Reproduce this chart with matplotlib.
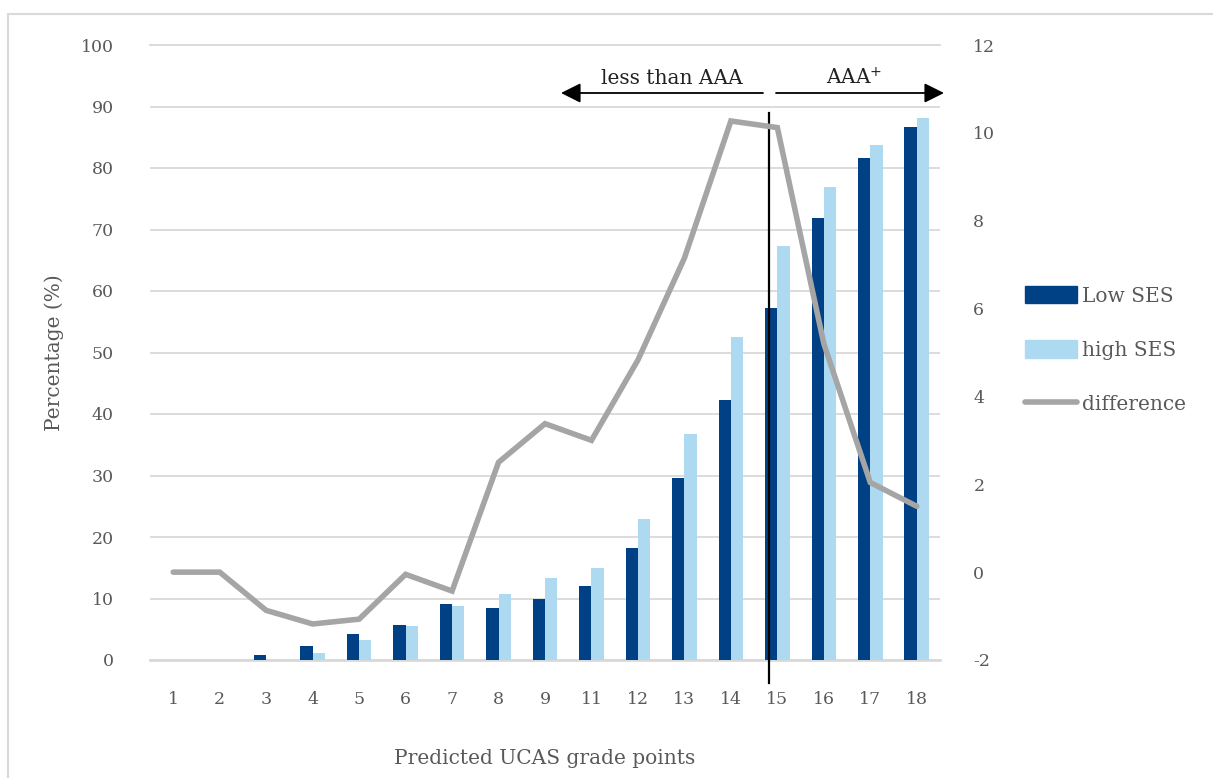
import matplotlib
matplotlib.use("Agg")
import matplotlib.pyplot as plt
import matplotlib.transforms as mtransforms
from matplotlib.patches import Rectangle, Patch, FancyArrowPatch
from matplotlib.lines import Line2D
import numpy as np

# Predicted UCAS grade points and outcome percentages by socio-economic status
grade_points = ["1", "2", "3", "4", "5", "6", "7", "8", "9",
                "11", "12", "13", "14", "15", "16", "17", "18"]
low_ses = [0.0, 0.0, 0.8, 2.3, 4.3, 5.7, 9.1, 8.4, 9.9,
           12.0, 18.2, 29.6, 42.3, 57.2, 71.8, 81.7, 86.6]
high_ses = [0.0, 0.0, 0.0, 1.1, 3.2, 5.6, 8.7, 10.8, 13.3,
            15.0, 23.0, 36.8, 52.6, 67.3, 76.9, 83.7, 88.1]
difference = [0.0, 0.0, -0.87, -1.18, -1.07, -0.05, -0.43, 2.5, 3.38,
              3.0, 4.83, 7.15, 10.27, 10.12, 5.2, 2.04, 1.5]

left_ticks = [0, 10, 20, 30, 40, 50, 60, 70, 80, 90, 100]
right_ticks = [-2, 0, 2, 4, 6, 8, 10, 12]

DARK = "#004185"
LIGHT = "#addaf0"
GREY_LINE = "#a5a5a5"
TEXT = "#595959"
GRID = "#d9d9d9"

plt.rcParams["font.family"] = "DejaVu Serif"
plt.rcParams["axes.unicode_minus"] = False

W, H = 1213, 778
fig = plt.figure(figsize=(W / 100, H / 100), dpi=100)

# chart-area border
fig.add_artist(Rectangle((8 / W, -0.1), 1.2, 1 - 14 / H + 0.1,
                         transform=fig.transFigure, fill=False,
                         edgecolor=GRID, linewidth=1.5))

ax = fig.add_axes([150 / W, 1 - 660 / H, 790 / W, 615 / H])
ax2 = ax.twinx()

x = np.arange(len(grade_points))
bw = 0.265
ax.bar(x - bw / 2, low_ses, width=bw, color=DARK, zorder=3, label="Low SES")
ax.bar(x + bw / 2, high_ses, width=bw, color=LIGHT, zorder=3, label="high SES")

ax2.plot(x, difference, color=GREY_LINE, linewidth=4, solid_capstyle="round",
         solid_joinstyle="miter", zorder=4)

ax.set_xlim(-0.5, len(grade_points) - 0.5)
ax.set_ylim(0, 100)
ax2.set_ylim(-2, 12)
ax.set_yticks(left_ticks)
ax2.set_yticks(right_ticks)
ax.set_xticks(x)
ax.set_xticklabels(grade_points)

ax.grid(axis="y", color=GRID, linewidth=1.3, zorder=0)
ax.set_axisbelow(True)
for a in (ax, ax2):
    for s in a.spines.values():
        s.set_visible(False)
ax.spines["bottom"].set_visible(True)
ax.spines["bottom"].set_color(GRID)
ax.spines["bottom"].set_linewidth(2)
ax.spines["top"].set_visible(True)
ax.spines["top"].set_color(GRID)
ax.spines["top"].set_linewidth(1.3)

ax.tick_params(axis="both", length=0, labelsize=12.5, colors=TEXT)
ax.tick_params(axis="x", pad=22)
ax.tick_params(axis="y", pad=26)
ax2.tick_params(axis="y", length=0, labelsize=12.5, colors=TEXT, pad=24)

ax.set_ylabel("Percentage (%)", fontsize=14.5, color=TEXT, labelpad=12)
ax.set_xlabel("Predicted UCAS grade points", fontsize=14.5, color=TEXT, labelpad=30)

# divider between "less than AAA" and "AAA+"
xl = 12.81
blend = mtransforms.blended_transform_factory(ax.transData, fig.transFigure)
ax.plot([xl, xl], [1 - 113 / H, 1 - 683 / H], color="black", linewidth=1.6,
        transform=blend, clip_on=False, zorder=6)

figt = fig.transFigure
ya = 1 - 93 / H
arrow_style = "-|>,head_length=1.2,head_width=0.6"
fig.add_artist(FancyArrowPatch((763 / W, ya), (561 / W, ya), transform=figt,
                               arrowstyle=arrow_style, mutation_scale=10,
                               color="black", linewidth=1.3, shrinkA=0, shrinkB=0))
fig.add_artist(FancyArrowPatch((776 / W, ya), (944 / W, ya), transform=figt,
                               arrowstyle=arrow_style, mutation_scale=10,
                               color="black", linewidth=1.3, shrinkA=0, shrinkB=0))
fig.text(672 / W, 1 - 78 / H, "less than AAA", ha="center", va="center",
         fontsize=14.5, color="#222222")
fig.text(854 / W, 1 - 78 / H, "AAA$^{+}$", ha="center", va="center",
         fontsize=14.5, color="#222222")

handles = [Patch(facecolor=DARK, edgecolor=DARK),
           Patch(facecolor=LIGHT, edgecolor=LIGHT),
           Line2D([0], [0], color=GREY_LINE, linewidth=4, solid_capstyle="round")]
leg = fig.legend(handles, ["Low SES", "high SES", "difference"],
                 loc="center left", bbox_to_anchor=(1025 / W, 1 - 350 / H),
                 frameon=False, fontsize=14.5, handlelength=2.6, handleheight=0.95,
                 handletextpad=0.25, labelspacing=1.72, borderaxespad=0,
                 borderpad=0)
for t in leg.get_texts():
    t.set_color(TEXT)

fig.savefig("out.png", dpi=100)
